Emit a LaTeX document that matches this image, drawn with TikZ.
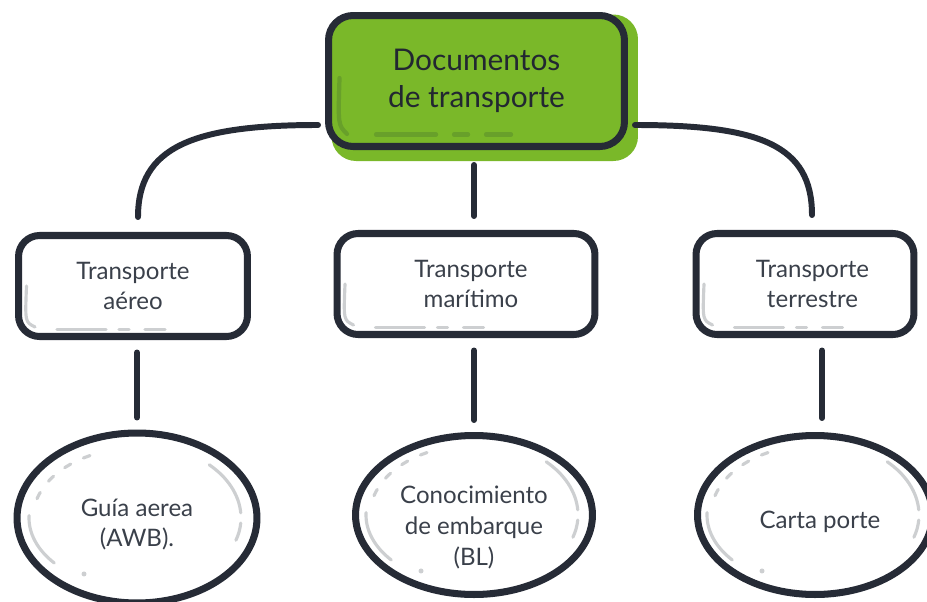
\documentclass[tikz,border=0pt]{standalone}
\usepackage{fontspec}
\setmainfont{Lato}
\usetikzlibrary{positioning,calc,backgrounds,shapes.geometric}
\definecolor{ink}{HTML}{262B36}
\definecolor{leaf}{HTML}{7AB829}
\definecolor{leafdark}{HTML}{68A02A}
\definecolor{scratchgray}{HTML}{CDCFD1}
\definecolor{txt}{HTML}{3A404A}

\begin{document}
\begin{tikzpicture}[x=0.02cm,y=-0.02cm,
    every node/.style={align=center,text=txt},
    rootbox/.style={draw=ink,line width=4pt,rounded corners=14pt,minimum width=5.92cm,minimum height=2.62cm,font=\fontsize{17}{21}\selectfont,text=ink!90!black},
    modebox/.style={draw=ink,line width=4pt,rounded corners=12pt,minimum height=2.02cm,font=\fontsize{13.7}{17.5}\selectfont},
    docnode/.style={ellipse,draw=ink,line width=4pt,inner sep=0pt,minimum width=4.8cm,minimum height=3.3cm},
    doctext/.style={font=\fontsize{13.7}{17.5}\selectfont,yshift=-0.25cm},
    link/.style={draw=ink,line width=3.4pt,line cap=round},
    scratch/.style={draw=scratchgray,line width=1.8pt,line cap=round},
    gloss/.style={draw=leafdark,line width=2.4pt,line cap=round}
]
    \useasboundingbox (0,0) rectangle (927,602);

    % main node
    \node [rootbox] (root) at (476.5,81) {Documentos\\de transporte};

    % transport modes
    \node [modebox,minimum width=4.58cm] (air) at (133,286) {Transporte\\aéreo};
    \node [modebox,minimum width=5.16cm,text width=4.8cm] (sea) at (466,284) {\hspace*{0.2cm}Transporte\\\hspace*{0.2cm}marítimo};
    \node [modebox,minimum width=4.36cm,text width=4cm] (land) at (805,284) {\hspace*{0.3cm}Transporte\\\hspace*{0.3cm}terrestre};

    % documents
    \node [docnode,minimum height=3.4cm,label={[doctext,yshift=0.12cm]center:Guía aerea\\(AWB).}] (awb) at (137,518) {};
    \node [docnode,minimum width=4.74cm,minimum height=3.18cm,label={[doctext]center:Conocimiento\\de embarque\\(BL)}] (bl) at (474,515) {};
    \node [docnode,minimum width=4.7cm,minimum height=3.18cm,label={[doctext,yshift=0.12cm,xshift=0.1cm]center:Carta porte}] (cp) at (815,515) {};

    % green fill behind the main node
    \begin{scope}[on background layer]
        \fill [leaf,rounded corners=14pt] ($(root.north west)+(6.5,2.5)$) rectangle ($(root.south east)+(10,11)$);
    \end{scope}
    \draw [gloss] ($(root.south west)+(14.5,-72)$) .. controls ($(root.south west)+(13,-25)$) .. ($(root.south west)+(22,-16)$);
    \draw [gloss] ($(root.south west)+(51,-15.5)$) -- ++(60,0) ++(18,0) -- ++(14,0) ++(18,0) -- ++(25,0);

    % sketch marks in the boxes
    \foreach \b in {air,sea,land}{
        \draw [scratch] ($(\b.south west)+(11.5,-54)$) .. controls ($(\b.south west)+(10,-18)$) .. ($(\b.south west)+(20,-13)$);
        \draw [scratch] ($(\b.south west)+(42,-10.5)$) -- ++(49,0) ++(13,0) -- ++(10,0) ++(16,0) -- ++(20,0);
    }

    % sketch marks in the ellipses
    \foreach \e in {awb,bl,cp}{
        \draw [scratch,dash pattern=on 4pt off 8pt] ($(\e.center)+(196:104 and 70)$) arc[start angle=196,end angle=250,x radius=104,y radius=70];
        \draw [scratch] ($(\e.center)+(182:108 and 70)$) arc[start angle=182,end angle=140,x radius=108,y radius=70];
        \fill [scratchgray] ($(\e.center)+(122:100 and 66)$) circle[radius=2.5];
        \draw [scratch] ($(\e.center)+(314:104 and 74)$) arc[start angle=314,end angle=356,x radius=104,y radius=74];
        \draw [scratch] ($(\e.center)+(4:104 and 72)$) arc[start angle=4,end angle=18,x radius=104,y radius=72];
    }

    % connectors
    \draw [link] ([shift={(-0.14cm,-0.88cm)}]root.west) .. controls +(-2.5cm,0) and +(0,1.4cm) .. ([shift={(0.1cm,0.3cm)}]air.north);
    \draw [link] ([shift={(0.14cm,-0.88cm)}]root.east) .. controls +(2.5cm,0) and +(0,1.4cm) .. ([shift={(0.14cm,0.3cm)}]land.north);
    \draw [link] ([shift={(-0.05cm,-0.3cm)}]root.south) -- ([shift={(0.16cm,0.28cm)}]sea.north);
    \draw [link] ([shift={(0.08cm,-0.25cm)}]air.south) -- ([yshift=0.24cm]awb.north);
    \draw [link] ([shift={(0.16cm,-0.25cm)}]sea.south) -- ([yshift=0.24cm]bl.north);
    \draw [link] ([shift={(0.34cm,-0.25cm)}]land.south) -- ([shift={(0.14cm,0.28cm)}]cp.north);
\end{tikzpicture}
\end{document}
